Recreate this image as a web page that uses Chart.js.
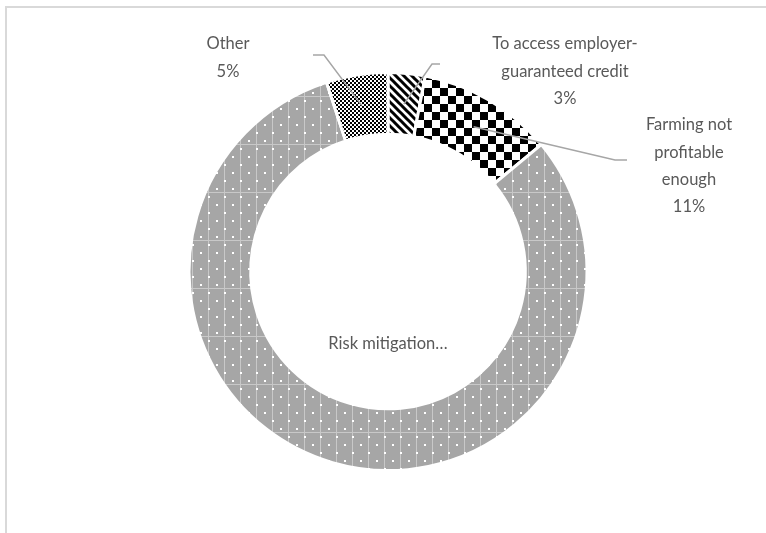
<!DOCTYPE html>
<html>
<head>
<meta charset="utf-8">
<script src="https://cdn.jsdelivr.net/npm/chart.js@4.4.1/dist/chart.umd.min.js"></script>
<style>
  html, body { margin: 0; padding: 0; background: #fff; overflow: hidden; }
  #wrap { position: relative; width: 766px; height: 533px; }
  #frame { position: absolute; left: 5px; top: 6px; width: 900px; height: 700px;
           border-top: 2px solid #d9d9d9; border-left: 2px solid #d9d9d9; }
  canvas { position: absolute; left: 0; top: 0; }
</style>
</head>
<body>
<div id="wrap">
  <div id="frame"></div>
  <canvas id="reasonsChart" width="766" height="533"></canvas>
</div>
<script>
// Data (share of respondents, %), clockwise from 12 o'clock
const categories = ['To access employer-guaranteed credit', 'Farming not profitable enough', 'Risk mitigation…', 'Other'];
const shares = [3, 11, 81, 5];
const showPercent = [true, true, false, true];
// how each label is broken into lines
const labelLines = [
    ['To access employer-', 'guaranteed credit'],
    ['Farming not', 'profitable', 'enough'],
    ['Risk mitigation…'],
    ['Other']
];

// pattern fills, like the Excel ones
function makePattern(w, h, paint) {
    const c = document.createElement('canvas');
    c.width = w; c.height = h;
    const g = c.getContext('2d');
    paint(g);
    return document.createElement('canvas').getContext('2d').createPattern(c, 'repeat');
}

const hatchFill = makePattern(8, 8, g => {
    g.fillStyle = '#fff'; g.fillRect(0, 0, 8, 8);
    g.strokeStyle = '#000'; g.lineWidth = 3;
    g.beginPath();
    g.moveTo(-2, -2); g.lineTo(10, 10);
    g.moveTo(-10, -2); g.lineTo(2, 10);
    g.moveTo(6, -2); g.lineTo(18, 10);
    g.stroke();
});

const checkerFill = makePattern(16, 16, g => {
    g.fillStyle = '#fff'; g.fillRect(0, 0, 16, 16);
    g.fillStyle = '#000';
    g.fillRect(0, 0, 8, 8); g.fillRect(8, 8, 8, 8);
});

const grayFill = makePattern(16, 48, g => {
    g.fillStyle = '#a6a6a6'; g.fillRect(0, 0, 16, 48);
    g.fillStyle = '#c8c8c8';
    g.fillRect(0, 0, 1, 48);
    g.fillRect(0, 0, 16, 1);
    g.fillStyle = '#fff';
    for (let y = 4; y < 48; y += 16) {
        g.fillRect(0, y, 2, 2);
        g.fillRect(8, y + 8, 2, 2);
    }
});

const fineFill = makePattern(4, 4, g => {
    g.fillStyle = '#fff'; g.fillRect(0, 0, 4, 4);
    g.fillStyle = '#000';
    g.fillRect(0, 0, 2, 2); g.fillRect(2, 2, 2, 2);
});

// where the labels sit and where their leader lines bend
const labelPlaces = [
    { x: 565, y: 44, leader: [[440, 64], [432, 64]] },
    { x: 689, y: 125, leader: [[627, 160], [615, 160]] },
    { x: 388, y: 344, leader: null },
    { x: 228, y: 44, leader: [[313, 55], [324, 55]] }
];

const labelPlugin = {
    id: 'excelLabels',
    afterDatasetsDraw(chart) {
        const ctx = chart.ctx;
        const arcs = chart.getDatasetMeta(0).data;
        ctx.save();
        // leader lines
        ctx.strokeStyle = '#a6a6a6';
        ctx.lineWidth = 1.5;
        arcs.forEach((arc, i) => {
            const place = labelPlaces[i];
            if (!place.leader) return;
            const p = arc.tooltipPosition();
            ctx.beginPath();
            ctx.moveTo(place.leader[0][0], place.leader[0][1]);
            place.leader.slice(1).forEach(q => ctx.lineTo(q[0], q[1]));
            ctx.lineTo(p.x, p.y);
            ctx.stroke();
        });
        // texts
        ctx.fillStyle = '#595959';
        ctx.font = '16.5px Lato';
        ctx.textAlign = 'center';
        ctx.textBaseline = 'middle';
        arcs.forEach((arc, i) => {
            const place = labelPlaces[i];
            const lines = labelLines[i].slice();
            if (showPercent[i]) lines.push(shares[i] + '%');
            lines.forEach((t, k) => ctx.fillText(t, place.x, place.y + k * 27.3));
        });
        ctx.restore();
    }
};

const reasonsChart = new Chart(document.getElementById('reasonsChart'), {
    type: 'doughnut',
    data: {
        labels: categories,
        datasets: [{
            data: shares,
            backgroundColor: [hatchFill, checkerFill, grayFill, fineFill],
            borderColor: '#fff',
            borderWidth: 3
        }]
    },
    options: {
        responsive: false,
        animation: false,
        cutout: '69%',
        layout: { padding: { top: 71, bottom: 61, left: 10, right: 0 } },
        plugins: {
            legend: { display: false },
            tooltip: { enabled: false }
        }
    },
    plugins: [labelPlugin]
});
</script>
</body>
</html>
